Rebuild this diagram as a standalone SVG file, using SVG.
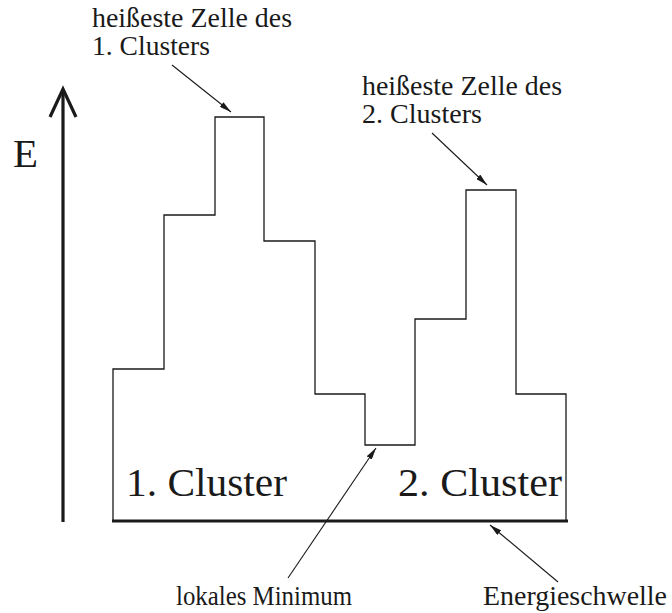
<svg xmlns="http://www.w3.org/2000/svg" width="672" height="613" viewBox="0 0 672 613">
  <style>
    text { font-family: "Liberation Serif", "Times New Roman", "DejaVu Serif", serif; fill: #1a1a1a; }
    .lbl { font-size: 27px; }
    .big { font-size: 41px; }
    .step { fill: none; stroke: #1a1a1a; stroke-width: 1.3; }
    .ptr { fill: none; stroke: #1a1a1a; stroke-width: 1.1; marker-end: url(#tip); }
    .axis { fill: none; stroke: #1a1a1a; stroke-width: 3.2; }
  </style>
  <defs>
    <marker id="tip" viewBox="0 0 12 6" refX="12" refY="3" markerWidth="12" markerHeight="6" markerUnits="userSpaceOnUse" orient="auto">
      <path d="M0,0 L12,3 L0,6 Z" fill="#1a1a1a"/>
    </marker>
  </defs>

  <rect width="672" height="613" fill="#ffffff"/>

  <!-- energy axis -->
  <g id="axis">
    <line class="axis" x1="63" y1="522" x2="63" y2="90"/>
    <polyline class="axis" points="50,117 63,89 76,117"/>
    <text class="big" x="13" y="167" textLength="25" lengthAdjust="spacingAndGlyphs">E</text>
  </g>

  <!-- cell energy profile of both clusters -->
  <g id="profile">
    <polyline class="step" points="113,521 113,369 164,369 164,215 215,215 215,117 264,117 264,241 315,241 315,394 365,394 365,445 415,445 415,319 466,319 466,190 516,190 516,394 566,394 566,521"/>
  </g>

  <!-- energy threshold -->
  <g id="threshold">
    <line x1="112" y1="521" x2="568" y2="521" stroke="#1a1a1a" stroke-width="3.2"/>
  </g>

  <g id="cluster1">
    <text class="big" x="126" y="496" textLength="161" lengthAdjust="spacingAndGlyphs">1. Cluster</text>
  </g>
  <g id="cluster2">
    <text class="big" x="398" y="496" textLength="164" lengthAdjust="spacingAndGlyphs">2. Cluster</text>
  </g>

  <g id="label-hot1">
    <text class="lbl" x="92" y="27" textLength="200" lengthAdjust="spacingAndGlyphs">heißeste Zelle des</text>
    <text class="lbl" x="92" y="55" textLength="118" lengthAdjust="spacingAndGlyphs">1. Clusters</text>
  </g>
  <g id="label-hot2">
    <text class="lbl" x="362" y="95" textLength="200" lengthAdjust="spacingAndGlyphs">heißeste Zelle des</text>
    <text class="lbl" x="362" y="123" textLength="120" lengthAdjust="spacingAndGlyphs">2. Clusters</text>
  </g>
  <g id="label-min">
    <text class="lbl" x="176" y="605" textLength="176" lengthAdjust="spacingAndGlyphs">lokales Minimum</text>
  </g>
  <g id="label-threshold">
    <text class="lbl" x="483" y="605" textLength="184" lengthAdjust="spacingAndGlyphs">Energieschwelle</text>
  </g>

  <!-- pointers -->
  <g id="connectors">
    <line class="ptr" x1="172" y1="65" x2="231" y2="112"/>
    <line class="ptr" x1="432" y1="133" x2="487" y2="185"/>
    <line class="ptr" x1="288" y1="578" x2="376" y2="448"/>
    <line class="ptr" x1="558" y1="582" x2="490" y2="525"/>
  </g>
</svg>
